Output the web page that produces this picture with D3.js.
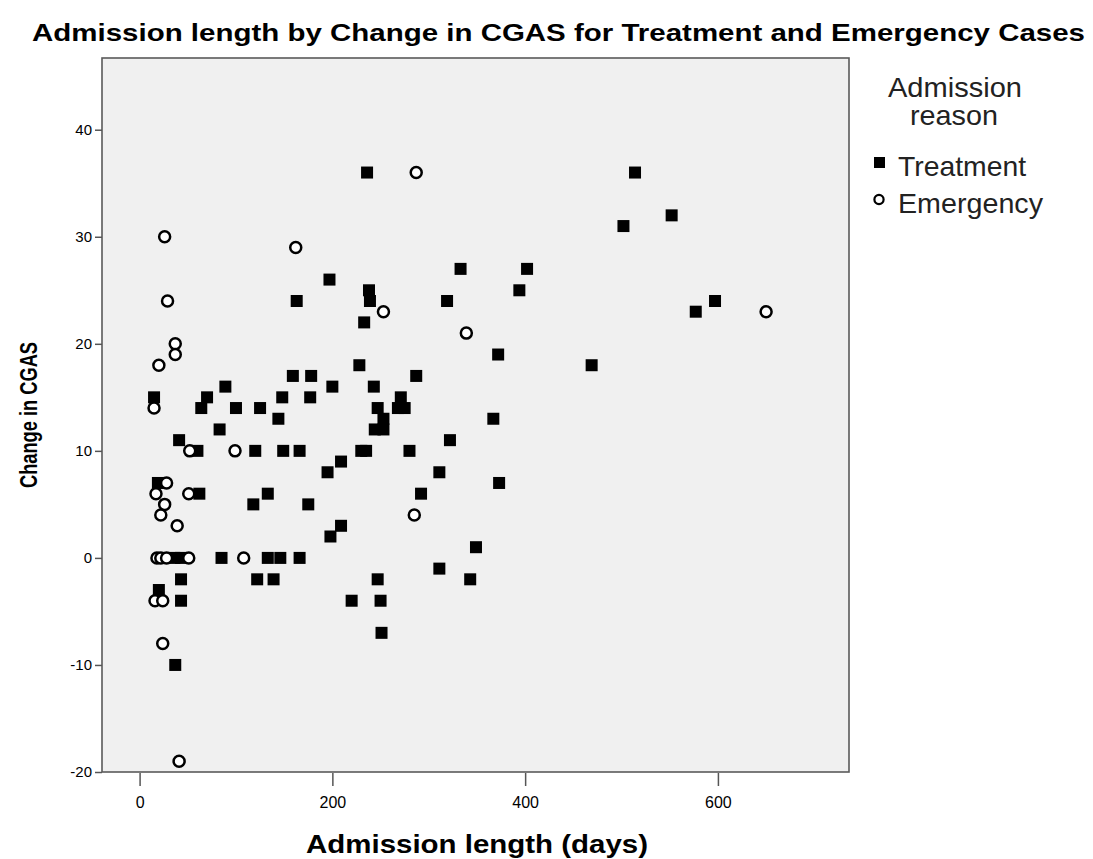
<!DOCTYPE html>
<html>
<head>
<meta charset="utf-8">
<script src="https://cdn.jsdelivr.net/npm/d3@7"></script>
<style>
  body { margin: 0; background: #fff; }
  text { font-family: "Liberation Sans", Arial, sans-serif; fill: #000; }
</style>
</head>
<body>
<svg id="chart" width="1093" height="859"></svg>
<script>
// Treatment cases: admission length (days) and change in CGAS
const treatmentDays = [15, 20, 163, 70, 64, 89, 100, 125, 144, 148, 159, 178, 177, 200, 83, 41,
  60, 120, 149, 166, 209, 195, 19, 62, 133, 118, 175, 209, 198, 36, 43, 85, 133, 146, 166,
  43, 122, 139, 43, 220, 37, 197, 236, 333, 402, 394, 238, 239, 319, 233, 372, 469, 228,
  287, 243, 271, 247, 268, 275, 253, 244, 253, 230, 235, 280, 367, 322, 311, 292, 373, 349,
  311, 247, 343, 250, 251, 514, 552, 502, 597, 577];
const treatmentCgas = [15, -3, 24, 15, 14, 16, 14, 14, 13, 15, 17, 17, 15, 16, 12, 11,
  10, 10, 10, 10, 9, 8, 7, 6, 6, 5, 5, 3, 2, 0, 0, 0, 0, 0, 0,
  -2, -2, -2, -4, -4, -10, 26, 36, 27, 27, 25, 25, 24, 24, 22, 19, 18, 18,
  17, 16, 15, 14, 14, 14, 13, 12, 12, 10, 10, 10, 13, 11, 8, 6, 7, 1,
  -1, -2, -2, -4, -7, 36, 32, 31, 24, 23];

// Emergency cases
const emergencyDays = [29, 37, 37, 20, 15, 52, 99, 28, 17, 51, 26, 22, 39, 18, 22, 28, 51, 108,
  16, 24, 24, 41, 26, 162, 287, 253, 339, 285, 650];
const emergencyCgas = [24, 20, 19, 18, 14, 10, 10, 7, 6, 6, 5, 4, 3, 0, 0, 0, 0, 0,
  -4, -4, -8, -19, 30, 29, 36, 23, 21, 4, 23];

const xTicks = [0, 200, 400, 600];
const yTicks = [-20, -10, 0, 10, 20, 30, 40];
const legendLabels = ['Treatment', 'Emergency'];

const svg = d3.select('#chart');
const plot = {left: 102, top: 58, right: 849, bottom: 772};

const x = d3.scaleLinear().domain([-39, 736]).range([plot.left, plot.right]);
const y = d3.scaleLinear().domain([-20, 46.7]).range([plot.bottom, plot.top]);

svg.append('rect')
  .attr('width', 1093).attr('height', 859).attr('fill', '#fff');

// title
svg.append('text')
  .attr('x', 32).attr('y', 41)
  .attr('textLength', 1053).attr('lengthAdjust', 'spacingAndGlyphs')
  .style('font-size', '24px').style('font-weight', 'bold')
  .text('Admission length by Change in CGAS for Treatment and Emergency Cases');

// plot frame
svg.append('rect')
  .attr('x', plot.left).attr('y', plot.top)
  .attr('width', plot.right - plot.left).attr('height', plot.bottom - plot.top)
  .attr('fill', '#f0f0f0')
  .attr('stroke', '#5a5a5a').attr('stroke-width', 1.6);

// axes
const yAxis = d3.axisLeft(y).tickValues(yTicks).tickSize(7).tickPadding(3)
  .tickFormat(d => String(d));
const gy = svg.append('g')
  .attr('transform', `translate(${plot.left},0)`)
  .call(yAxis);
gy.select('.domain').remove();
gy.selectAll('.tick line').attr('stroke', '#555').attr('stroke-width', 1.5);
gy.selectAll('.tick text')
  .style('font-size', '15px').style('font-family', '"Liberation Sans", Arial, sans-serif')
  .attr('fill', '#000');

const xAxis = d3.axisBottom(x).tickValues(xTicks).tickSize(13).tickPadding(11);
const gx = svg.append('g')
  .attr('transform', `translate(0,${plot.bottom + 1})`)
  .call(xAxis);
gx.select('.domain').remove();
gx.selectAll('.tick line').attr('stroke', '#555').attr('stroke-width', 1.5);
gx.selectAll('.tick text')
  .style('font-size', '16px').style('font-family', '"Liberation Sans", Arial, sans-serif')
  .attr('fill', '#000');

// axis titles
svg.append('text')
  .attr('x', 306).attr('y', 853)
  .attr('textLength', 342).attr('lengthAdjust', 'spacingAndGlyphs')
  .style('font-size', '25px').style('font-weight', 'bold')
  .text('Admission length (days)');

svg.append('text')
  .attr('transform', 'translate(37,488) rotate(-90)')
  .attr('textLength', 146).attr('lengthAdjust', 'spacingAndGlyphs')
  .style('font-size', '24px').style('font-weight', 'bold')
  .text('Change in CGAS');

// points: squares first, circles on top
const sq = 12;
svg.append('g').selectAll('rect')
  .data(treatmentDays)
  .join('rect')
  .attr('x', (d, i) => x(d) - sq / 2)
  .attr('y', (d, i) => y(treatmentCgas[i]) - sq / 2)
  .attr('width', sq).attr('height', sq)
  .attr('fill', '#000');

svg.append('g').selectAll('circle')
  .data(emergencyDays)
  .join('circle')
  .attr('cx', d => x(d))
  .attr('cy', (d, i) => y(emergencyCgas[i]))
  .attr('r', 5.5)
  .attr('fill', '#fff')
  .attr('stroke', '#000').attr('stroke-width', 2.5);

// legend
const legend = svg.append('g');
legend.append('text')
  .attr('x', 888).attr('y', 97)
  .attr('textLength', 134).attr('lengthAdjust', 'spacingAndGlyphs')
  .style('font-size', '28px').style('fill', '#222')
  .text('Admission');
legend.append('text')
  .attr('x', 910).attr('y', 125)
  .attr('textLength', 88).attr('lengthAdjust', 'spacingAndGlyphs')
  .style('font-size', '28px').style('fill', '#222')
  .text('reason');

legend.append('rect')
  .attr('x', 874).attr('y', 157).attr('width', 11).attr('height', 11)
  .attr('fill', '#000');
legend.append('circle')
  .attr('cx', 879).attr('cy', 199.5).attr('r', 4.6)
  .attr('fill', '#fff').attr('stroke', '#000').attr('stroke-width', 2.2);

legend.selectAll('text.item')
  .data(legendLabels)
  .join('text')
  .attr('class', 'item')
  .attr('x', 898)
  .attr('y', (d, i) => 176 + i * 37)
  .attr('textLength', (d, i) => i === 0 ? 128 : 145)
  .attr('lengthAdjust', 'spacingAndGlyphs')
  .style('font-size', '28px').style('fill', '#222')
  .text(d => d);
</script>
</body>
</html>
